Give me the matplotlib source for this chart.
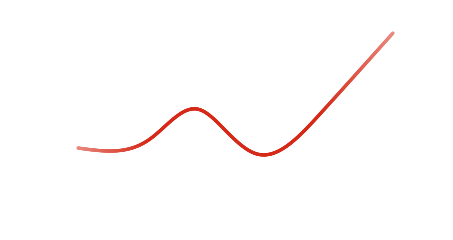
import numpy as np
import matplotlib
matplotlib.use("Agg")
import matplotlib.pyplot as plt
from matplotlib.collections import LineCollection

# points (x offset, value)
x_pts = [0, 32, 72, 119, 147, 179, 242, 315]
values = [92, 89, 101, 131, 110, 86, 126, 207]


def natural_spline(x, y, n=600):
    x = np.asarray(x, float)
    y = np.asarray(y, float)
    k = len(x)
    h = np.diff(x)
    A = np.zeros((k, k))
    b = np.zeros(k)
    A[0, 0] = A[-1, -1] = 1
    for i in range(1, k - 1):
        A[i, i - 1] = h[i - 1]
        A[i, i] = 2 * (h[i - 1] + h[i])
        A[i, i + 1] = h[i]
        b[i] = 6 * ((y[i + 1] - y[i]) / h[i] - (y[i] - y[i - 1]) / h[i - 1])
    m = np.linalg.solve(A, b)
    xs = np.linspace(x[0], x[-1], n)
    idx = np.clip(np.searchsorted(x, xs) - 1, 0, k - 2)
    x0, x1 = x[idx], x[idx + 1]
    hh = x1 - x0
    a = (x1 - xs) / hh
    c = (xs - x0) / hh
    ys = (a * y[idx] + c * y[idx + 1]
          + ((a ** 3 - a) * m[idx] + (c ** 3 - c) * m[idx + 1]) * hh ** 2 / 6)
    return xs, ys


xs, ys = natural_spline(x_pts, values)

fig = plt.figure(figsize=(4.53, 2.40), dpi=100)
ax = fig.add_axes([0, 0, 1, 1])
ax.set_xlim(-78, 375)
ax.set_ylim(0, 240)
ax.axis("off")

pts = np.column_stack([xs, ys]).reshape(-1, 1, 2)
segs = np.concatenate([pts[:-1], pts[1:]], axis=1)
t = np.linspace(0, 1, len(segs))
# strength of the red: faded at both ends, full in the middle
k = 0.55 + 0.45 * np.clip(np.sin(np.pi * t) * 1.5, 0, 1)
core = np.array([0.84, 0.16, 0.09])
colors = 1 - k[:, None] * (1 - core[None, :])
lc = LineCollection(segs, colors=colors, linewidths=2.3, capstyle="round")
ax.add_collection(lc)

fig.savefig("out.png", dpi=100)
